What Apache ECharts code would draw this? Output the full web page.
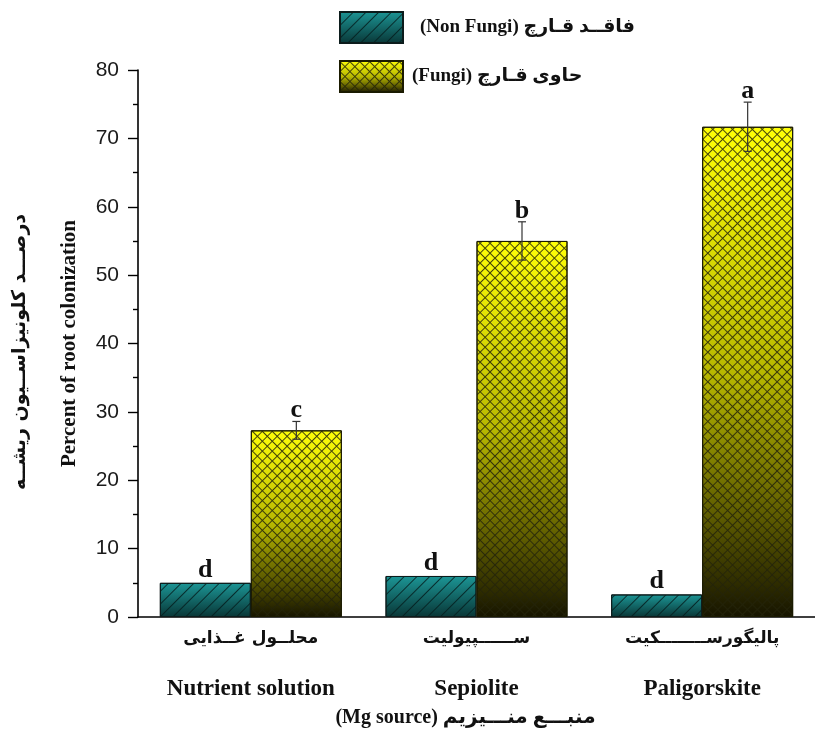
<!DOCTYPE html>
<html><head><meta charset="utf-8">
<script src="https://cdn.jsdelivr.net/npm/echarts@6/dist/echarts.min.js"></script>
<style>html,body{margin:0;padding:0;background:#fff}#c{width:815px;height:742px}</style>
</head><body><div id="c"></div>
<script>
// ---- data ----
const categoriesEn = ['Nutrient solution', 'Sepiolite', 'Paligorskite'];
const categoriesFa = ['محلــول غــذایی', 'ســــــپیولیت', 'پالیگورســــــــکیت'];
const nonFungi = [5.0, 6.0, 3.3];
const fungi = [27.3, 55.0, 71.7];
const fungiErr = [1.3, 2.8, 3.6];
const nonFungiLetters = ['d', 'd', 'd'];
const fungiLetters = ['c', 'b', 'a'];
const yMin = 0, yMax = 80, yStep = 10;
const nameNF = '(Non Fungi) فاقــد قـارچ';
const nameF = '(Fungi) حاوی قـارچ';
const yTitleEn = 'Percent of root colonization';
const yTitleFa = 'درصـــد کلونیزاســیون ریشــه';
const xTitle = '(Mg source) منبـــع منـــیزیم';

// ---- style ----
const SERIF = '"Liberation Serif","Times New Roman","DejaVu Sans",serif';
const SANS = '"Liberation Sans",Arial,sans-serif';
const BAR_W = 91;

const chart = echarts.init(document.getElementById('c'), null, {renderer: 'canvas'});
const tealGrad = {type: 'linear', x: 0, y: 0, x2: 0, y2: 1, colorStops: [
  {offset: 0, color: '#1c9696'}, {offset: 1, color: '#093636'}]};
const yellowGrad = {type: 'linear', x: 0, y: 0, x2: 0, y2: 1, colorStops: [
  {offset: 0, color: '#ffff08'}, {offset: 0.5, color: '#b8b800'},
  {offset: 0.8, color: '#5c5a00'}, {offset: 1, color: '#161400'}]};

chart.setOption({
  animation: false,
  backgroundColor: '#fff',
  legend: {
    left: 334, top: 6, orient: 'vertical', itemWidth: 63, itemHeight: 31, itemGap: 16,
    icon: 'rect',
    data: [
      {name: nameNF, textStyle: {padding: [0, 0, 0, 12]}},
      {name: nameF, textStyle: {padding: [0, 0, 0, 4]}}
    ],
    textStyle: {fontFamily: SERIF, fontWeight: 'bold', fontSize: 19, color: '#111'}
  },
  grid: {left: 138, top: 70, width: 680, height: 547},
  graphic: [{
    type: 'text', x: 20, y: 352, rotation: Math.PI / 2,
    style: {text: yTitleFa, fontFamily: '"DejaVu Sans",sans-serif', fontWeight: 'bold', fontSize: 19,
      fill: '#111', align: 'center', verticalAlign: 'middle'}
  }],
  xAxis: [{
    type: 'category', data: categoriesEn, gridIndex: 0,
    axisLine: {lineStyle: {color: '#000', width: 1.6}},
    axisTick: {alignWithLabel: true, length: 10, lineStyle: {color: '#000', width: 1.4}},
    axisLabel: {
      margin: 8, interval: 0,
      formatter: (v, i) => '{fa|' + categoriesFa[i] + '}\n{gap|}\n{en|' + v + '}',
      rich: {
        fa: {fontFamily: '"DejaVu Sans",sans-serif', fontWeight: 'bold', fontSize: 17, color: '#111', lineHeight: 28},
        gap: {lineHeight: 22},
        en: {fontFamily: SERIF, fontWeight: 'bold', fontSize: 23, color: '#111', lineHeight: 28}
      }
    },
    name: xTitle, nameLocation: 'middle', nameGap: 91,
    nameTextStyle: {fontFamily: SERIF, fontWeight: 'bold', fontSize: 20, color: '#111', padding: [0, 22, 0, 0]}
  }, {
    type: 'category', data: categoriesEn, gridIndex: 0, position: 'bottom',
    axisLine: {show: false},
    axisTick: {alignWithLabel: false, length: 5, lineStyle: {color: '#000', width: 1.4}},
    axisLabel: {show: false}
  }],
  yAxis: {
    type: 'value', min: yMin, max: yMax, interval: yStep,
    axisLine: {show: true, lineStyle: {color: '#000', width: 1.6}},
    axisTick: {show: true, length: 10, lineStyle: {color: '#000', width: 1.4}},
    minorTick: {show: true, splitNumber: 2, length: 5, lineStyle: {color: '#000', width: 1.4}},
    splitLine: {show: false},
    axisLabel: {fontFamily: SANS, fontSize: 21, color: '#1a1a1a', margin: 19},
    name: yTitleEn, nameLocation: 'middle', nameGap: 58, nameRotate: 90,
    nameTextStyle: {fontFamily: SERIF, fontWeight: 'bold', fontSize: 21, color: '#111'}
  },
  series: [{
    name: nameNF, type: 'bar', data: nonFungi, barWidth: BAR_W, barGap: '0%',
    itemStyle: {color: tealGrad, borderColor: '#0c1c1c', borderWidth: 1,
      decal: {symbol: 'rect', symbolSize: 1, dashArrayX: [9, 0], dashArrayY: [1, 8],
        rotation: -Math.PI / 4, color: 'rgba(5,30,30,0.85)'}},
    label: {show: true, position: 'top', distance: 0,
      formatter: p => nonFungiLetters[p.dataIndex],
      fontFamily: SERIF, fontWeight: 'bold', fontSize: 26, color: '#111'}
  }, {
    name: nameF, type: 'bar', data: fungi, barWidth: BAR_W, barGap: '0%',
    itemStyle: {color: yellowGrad, borderColor: '#1a1a00', borderWidth: 1,
      decal: {symbol: 'rect', symbolSize: 1, dashArrayX: [[7, 0], [1, 6]], dashArrayY: [1, 0, 6, 0],
        rotation: Math.PI / 4, color: 'rgba(35,35,10,0.85)'}}
  }, {
    name: 'err', type: 'custom', z: 10,
    data: fungi.map((v, i) => [i, v, fungiErr[i]]),
    encode: {x: 0, y: 1},
    renderItem: (params, api) => {
      const i = api.value(0), v = api.value(1), e = api.value(2);
      const x = api.coord([i, v])[0] + BAR_W / 2;
      const yT = api.coord([i, v + e])[1];
      const yB = api.coord([i, v - e])[1];
      const st = {stroke: '#333', lineWidth: 1.2};
      return {type: 'group', children: [
        {type: 'line', shape: {x1: x, y1: yT, x2: x, y2: yB}, style: st},
        {type: 'line', shape: {x1: x - 4, y1: yT, x2: x + 4, y2: yT}, style: st},
        {type: 'line', shape: {x1: x - 4, y1: yB, x2: x + 4, y2: yB}, style: st},
        {type: 'text', x: x, y: yT + 2, style: {text: fungiLetters[params.dataIndex],
          fontFamily: SERIF, fontWeight: 'bold', fontSize: 26, fill: '#111',
          align: 'center', verticalAlign: 'bottom'}}
      ]};
    }
  }]
});
</script></body></html>
